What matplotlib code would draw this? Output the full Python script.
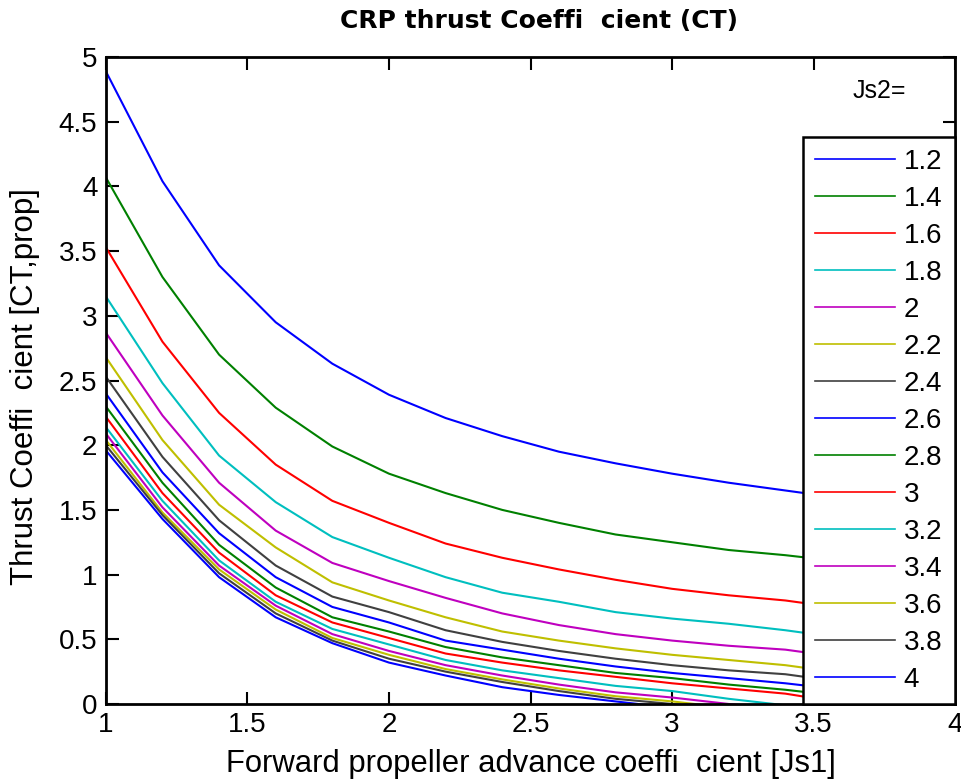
import matplotlib
matplotlib.use("Agg")
import matplotlib.pyplot as plt
from matplotlib import font_manager
from matplotlib.ticker import FuncFormatter, MultipleLocator

# forward propeller advance coefficient
js1 = [1.0, 1.2, 1.4, 1.6, 1.8, 2.0, 2.2, 2.4, 2.6, 2.8, 3.0, 3.2, 3.4, 3.6, 3.8, 4.0]

# aft propeller advance coefficient, one curve each
js2 = [1.2, 1.4, 1.6, 1.8, 2.0, 2.2, 2.4, 2.6, 2.8, 3.0, 3.2, 3.4, 3.6, 3.8, 4.0]

# CT,prop for each Js2 (rows) over Js1 (columns)
ct = [
    [4.89, 4.04, 3.39, 2.95, 2.63, 2.39, 2.21, 2.07, 1.95, 1.86, 1.78, 1.71, 1.65, 1.59, 1.53, 1.48],
    [4.07, 3.30, 2.70, 2.29, 1.99, 1.78, 1.63, 1.50, 1.40, 1.31, 1.25, 1.19, 1.15, 1.10, 1.06, 1.02],
    [3.53, 2.80, 2.25, 1.85, 1.57, 1.40, 1.24, 1.13, 1.04, 0.96, 0.89, 0.84, 0.80, 0.74, 0.70, 0.66],
    [3.15, 2.48, 1.92, 1.56, 1.29, 1.13, 0.98, 0.86, 0.79, 0.71, 0.66, 0.62, 0.57, 0.51, 0.47, 0.43],
    [2.87, 2.23, 1.71, 1.34, 1.09, 0.95, 0.82, 0.70, 0.61, 0.54, 0.49, 0.45, 0.42, 0.36, 0.32, 0.29],
    [2.68, 2.04, 1.54, 1.21, 0.94, 0.80, 0.67, 0.56, 0.49, 0.43, 0.38, 0.34, 0.30, 0.24, 0.21, 0.18],
    [2.53, 1.91, 1.42, 1.07, 0.83, 0.71, 0.57, 0.48, 0.41, 0.35, 0.30, 0.26, 0.23, 0.17, 0.14, 0.11],
    [2.40, 1.79, 1.32, 0.98, 0.75, 0.63, 0.49, 0.42, 0.35, 0.29, 0.24, 0.20, 0.16, 0.11, 0.07, 0.04],
    [2.30, 1.71, 1.23, 0.90, 0.67, 0.56, 0.44, 0.36, 0.30, 0.24, 0.20, 0.15, 0.11, 0.06, 0.02, -0.01],
    [2.22, 1.63, 1.17, 0.84, 0.63, 0.51, 0.39, 0.32, 0.26, 0.21, 0.16, 0.12, 0.08, 0.01, -0.02, -0.05],
    [2.14, 1.57, 1.11, 0.79, 0.58, 0.46, 0.34, 0.26, 0.20, 0.14, 0.10, 0.04, -0.01, -0.05, -0.08, -0.11],
    [2.09, 1.52, 1.07, 0.76, 0.54, 0.41, 0.30, 0.22, 0.15, 0.09, 0.05, 0.00, -0.04, -0.08, -0.11, -0.14],
    [2.04, 1.48, 1.04, 0.73, 0.51, 0.38, 0.27, 0.19, 0.12, 0.06, 0.02, -0.03, -0.07, -0.11, -0.14, -0.17],
    [2.00, 1.46, 1.01, 0.70, 0.49, 0.35, 0.25, 0.17, 0.10, 0.04, 0.00, -0.05, -0.09, -0.13, -0.16, -0.19],
    [1.96, 1.43, 0.98, 0.67, 0.47, 0.32, 0.22, 0.13, 0.07, 0.02, -0.03, -0.07, -0.11, -0.15, -0.18, -0.21],
]

# classic colour order, cycled over the curves
colors = [(0, 0, 1), (0, 0.5, 0), (1, 0, 0), (0, 0.75, 0.75),
          (0.75, 0, 0.75), (0.75, 0.75, 0), (0.25, 0.25, 0.25)]

installed = {f.name for f in font_manager.fontManager.ttflist}
narrow = "Liberation Sans Narrow" if "Liberation Sans Narrow" in installed else "Liberation Sans"

fig = plt.figure(figsize=(9.62, 7.81), dpi=100)
ax = fig.add_axes([0.110, 0.0986, 0.883, 0.8284])

for i, (j2, row) in enumerate(zip(js2, ct)):
    ax.plot(js1, row, color=colors[i % len(colors)], lw=1.5, label="%g" % j2)

ax.set_xlim(1, 4)
ax.set_ylim(0, 5)
ax.xaxis.set_major_locator(MultipleLocator(0.5))
ax.yaxis.set_major_locator(MultipleLocator(0.5))
fmt = FuncFormatter(lambda v, p: "%g" % v)
ax.xaxis.set_major_formatter(fmt)
ax.yaxis.set_major_formatter(fmt)
ax.tick_params(direction="in", length=9, width=1.5, top=True, right=True,
               labelsize=20, pad=6)
for lab in ax.get_xticklabels() + ax.get_yticklabels():
    lab.set_family(narrow)
for s in ax.spines.values():
    s.set_linewidth(2)

ax.set_xlabel("Forward propeller advance coeffi  cient [Js1]", family=narrow,
              fontsize=22.3, labelpad=8)
ax.set_ylabel("Thrust Coeffi  cient [CT,prop]", family=narrow, fontsize=22.5,
              labelpad=12)
ax.yaxis.set_label_coords(-0.078, 0.49)
ax.set_title("CRP thrust Coeffi  cient (CT)", family="DejaVu Sans",
             fontweight="bold", fontsize=18, pad=21, x=0.51)

ax.text(0.91, 0.947, "Js2=", transform=ax.transAxes, family="Liberation Sans",
        fontsize=18, ha="center", va="center")

leg = ax.legend(loc="upper left", bbox_to_anchor=(0.821, 0.0, 0.179, 0.876),
                mode="expand", ncol=1,
                prop={"family": narrow, "size": 20}, frameon=True,
                fancybox=False, framealpha=1, edgecolor="black",
                borderaxespad=0, borderpad=0.42, labelspacing=0.395,
                handlelength=2.9, handletextpad=0.3)
leg.get_frame().set_linewidth(1.8)
for h in leg.get_lines():
    h.set_linewidth(1.2)

fig.savefig("out.png", dpi=100)
